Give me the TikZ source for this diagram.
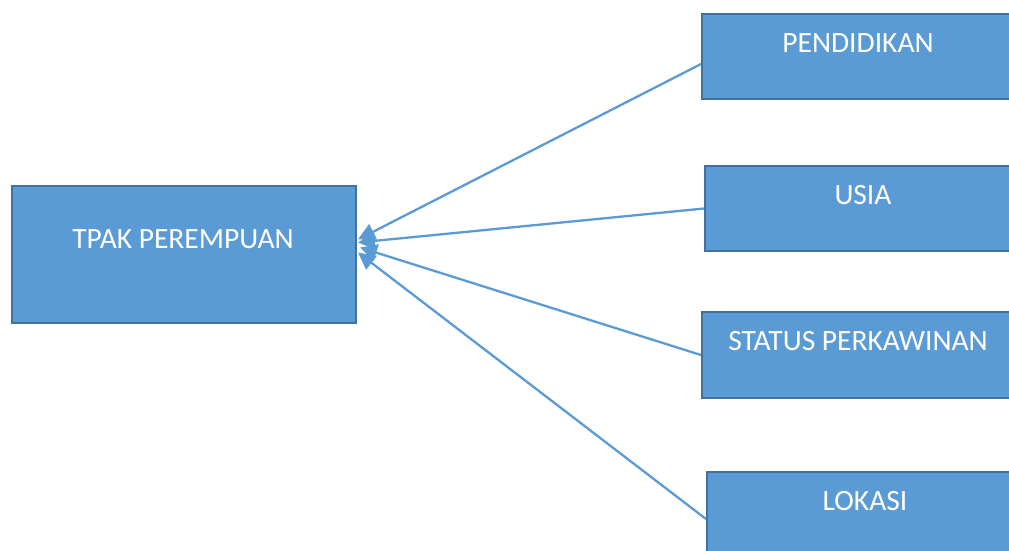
\documentclass[tikz,border=0pt]{standalone}
\usepackage{fontspec}
\setmainfont{Carlito}
\usetikzlibrary{arrows.meta}
\definecolor{boxfill}{HTML}{5B9BD5}
\definecolor{boxline}{HTML}{41719C}
\definecolor{arrowc}{HTML}{5B9BD5}
\begin{document}
\begin{tikzpicture}[x=1pt,y=-1pt,
  box/.style={draw=boxline, fill=boxfill, line width=2pt, anchor=north west, inner sep=0pt, minimum width=#1},
  box/.default=320pt,
  txt/.style={text=white, font=\fontsize{29.5}{35}\selectfont, inner sep=0pt, anchor=center},
  conn/.style={draw=arrowc, line width=2.3pt, -{Triangle[length=17pt,width=17pt]}}]
\useasboundingbox (0,0) rectangle (1009,550);
\node[box=344pt, minimum height=137pt] (tpak) at (11,185) {};
\node[box, minimum height=85pt] (pend) at (701,13) {};
\node[box, minimum height=85pt] (usia) at (704,165) {};
\node[box, minimum height=86pt] (status) at (701,311) {};
\node[box, minimum height=86pt] (lokasi) at (706,471) {};
\node[txt] (tpakt) at (183,239) {TPAK PEREMPUAN};
\node[txt] (pendt) at (858,43) {PENDIDIKAN};
\node[txt] (usiat) at (863,195) {USIA};
\node[txt] (statust) at (858,341) {STATUS PERKAWINAN};
\node[txt] (lokasit) at (865,501) {LOKASI};
\draw[conn] ([yshift=-7.5pt]pend.west) -- ([xshift=1pt,yshift=15pt]tpak.east);
\draw[conn] (usia.west) -- ([xshift=1pt,yshift=12pt]tpak.east);
\draw[conn] (status.west) -- ([xshift=3pt,yshift=7pt]tpak.east);
\draw[conn] ([yshift=-4pt]lokasi.west) -- ([xshift=1pt,yshift=2pt]tpak.east);
\end{tikzpicture}
\end{document}
